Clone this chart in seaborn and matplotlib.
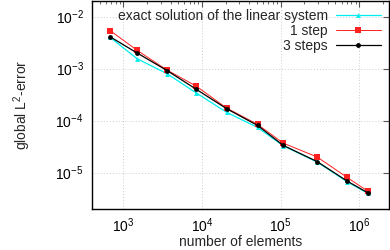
import numpy as np
import pandas as pd
import matplotlib
matplotlib.use("Agg")
import matplotlib.pyplot as plt
import matplotlib.ticker as mticker
import seaborn as sns

# number of elements per refinement level
n_elements = [680, 1500, 3600, 8500, 20600, 51000, 108000, 293000, 703000, 1290000]

# global L2 error
err_exact = [4.0e-3, 1.55e-3, 8.0e-4, 3.4e-4, 1.45e-4, 7.4e-5, 3.3e-5, 1.6e-5, 6.7e-6, 4.0e-6]
err_1step = [5.4e-3, 2.25e-3, 9.4e-4, 4.6e-4, 1.75e-4, 8.5e-5, 3.7e-5, 2.0e-5, 8.1e-6, 4.4e-6]
err_3steps = [4.1e-3, 2.0e-3, 9.2e-4, 4.0e-4, 1.7e-4, 8.1e-5, 3.35e-5, 1.63e-5, 6.9e-6, 4.1e-6]

labels = ["exact solution of the linear system", "1 step", "3 steps"]

sns.set_theme(style="white")
plt.rcParams["font.family"] = ["Liberation Sans", "DejaVu Sans"]
plt.rcParams["mathtext.fontset"] = "custom"
plt.rcParams["mathtext.rm"] = "Liberation Sans"

df = pd.concat([
    pd.DataFrame({"n": n_elements, "err": e, "run": lab})
    for e, lab in zip([err_exact, err_1step, err_3steps], labels)
])

fig = plt.figure(figsize=(3.9, 2.5), dpi=100)
ax = fig.add_axes([92 / 390, 1 - 209 / 250, 297 / 390, 208 / 250])

styles = {
    labels[0]: dict(color="#00eeee", marker="^", ms=3.5, lw=0.9),
    labels[1]: dict(color="#ff2020", marker="s", ms=3.8, lw=0.7),
    labels[2]: dict(color="black", marker="o", ms=3.5, lw=0.9),
}
for lab in labels:
    sub = df[df.run == lab]
    st = styles[lab]
    sns.lineplot(data=sub, x="n", y="err", ax=ax, label=lab, color=st["color"],
                 marker=st["marker"], markersize=st["ms"], linewidth=st["lw"],
                 markeredgewidth=0, estimator=None)

ax.set_xscale("log")
ax.set_yscale("log")
ax.set_xlim(400, 2.4e6)
ax.set_ylim(2e-6, 2e-2)

ax.xaxis.set_major_locator(mticker.LogLocator(base=10, numticks=10))
ax.xaxis.set_minor_locator(mticker.LogLocator(base=10, subs=np.arange(2, 10), numticks=20))
ax.xaxis.set_minor_formatter(mticker.NullFormatter())
ax.yaxis.set_major_locator(mticker.LogLocator(base=10, numticks=10))
ax.yaxis.set_minor_locator(mticker.NullLocator())

ax.tick_params(which="both", direction="in", top=True, right=True, labelsize=10,
               colors="black")
ax.tick_params(which="major", length=4, width=0.8, color="#555555")
ax.tick_params(axis="x", which="major", pad=5)
ax.tick_params(axis="y", which="major", pad=6)
ax.tick_params(which="minor", length=2, width=0.6, color="#555555")
ax.grid(True, which="major", color="#cccccc", linestyle=(0, (1, 2)), linewidth=0.7)

for sp in ax.spines.values():
    sp.set_color("black")
    sp.set_linewidth(1.0)

ax.set_xlabel("number of elements", fontsize=10, labelpad=0)
ax.set_ylabel("global L$^2$-error", fontsize=10, labelpad=16)

ax.legend(loc="upper right", frameon=False, markerfirst=False, fontsize=10,
          handlelength=3.2, borderaxespad=0.2, labelspacing=0.05, handletextpad=0.6)

fig.savefig("out.png", dpi=100)
